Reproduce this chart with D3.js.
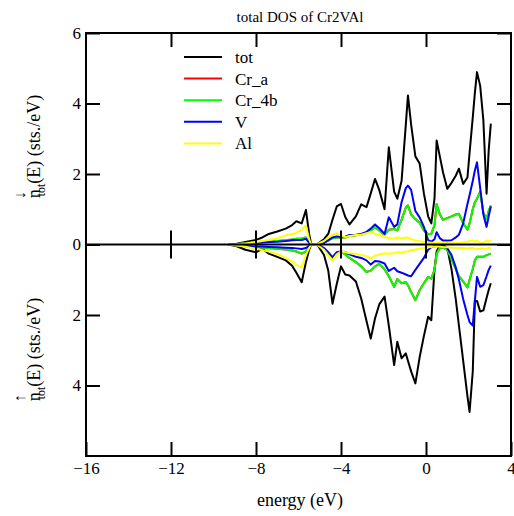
<!DOCTYPE html>
<html>
<head>
<meta charset="utf-8">
<script src="https://cdn.jsdelivr.net/npm/d3@7"></script>
<style>
  body { margin: 0; background: #fff; }
  text { font-family: "Liberation Serif", "DejaVu Serif", serif; }
</style>
</head>
<body>
<div class="visual"></div>
<script>
// energy grid (eV)
const energy = [-9.3, -8.9, -8.5, -8.0, -7.7, -7.4, -7.0, -6.6, -6.3, -6.1,
  -5.85, -5.65, -5.5, -5.4, -5.1, -4.8, -4.6, -4.4, -4.2, -4.0,
  -3.8, -3.6, -3.3, -3.05, -2.8, -2.6, -2.4, -2.2, -1.95, -1.75,
  -1.5, -1.35, -1.15, -0.95, -0.85, -0.7, -0.5, -0.3, -0.1, 0.1,
  0.25, 0.4, 0.5, 0.65, 0.8, 1.0, 1.2, 1.4, 1.55, 1.75,
  1.95, 2.05, 2.2, 2.3, 2.4, 2.55, 2.7, 2.85, 2.95, 3.05];

// spin down (drawn upward)
const totDn = [0, 0.02, 0.07, 0.13, 0.2, 0.3, 0.37, 0.45, 0.55, 0.66,
  0.6, 0.98, 0.3, 0, 0.02, 0.15, 0.3, 0.7, 1.08, 1.15,
  0.78, 0.57, 0.8, 1.14, 1.06, 1.45, 1.86, 1.55, 1.0, 2.76,
  1.5, 1.3, 1.8, 3.4, 4.23, 3.4, 2.5, 2.3, 1.45, 0.8,
  0.6, 1.3, 2.95, 2.5, 2.05, 1.58, 1.75, 1.95, 2.15, 1.72,
  1.9, 2.6, 3.6, 4.3, 4.89, 4.5, 3.52, 1.44, 2.67, 3.43];
const crADn = [0, 0.01, 0.04, 0.06, 0.07, 0.08, 0.1, 0.12, 0.14, 0.16,
  0.17, 0.2, 0.06, 0, 0, 0.05, 0.12, 0.18, 0.2, 0.2,
  0.2, 0.24, 0.26, 0.28, 0.33, 0.4, 0.49, 0.4, 0.28, 0.42,
  0.44, 0.4, 0.7, 1.05, 1.11, 0.85, 0.72, 0.62, 0.4, 0.3,
  0.3, 0.55, 1.15, 0.85, 0.7, 0.75, 0.8, 0.85, 0.87, 0.6,
  0.42, 0.6, 1.0, 1.2, 1.3, 1.5, 0.9, 0.72, 0.95, 1.1];
const cr4bDn = [0, 0.01, 0.04, 0.06, 0.07, 0.08, 0.1, 0.12, 0.14, 0.16,
  0.17, 0.2, 0.06, 0, 0, 0.05, 0.12, 0.18, 0.2, 0.2,
  0.2, 0.24, 0.26, 0.28, 0.33, 0.4, 0.49, 0.4, 0.28, 0.42,
  0.44, 0.4, 0.7, 1.05, 1.11, 0.85, 0.72, 0.62, 0.4, 0.3,
  0.3, 0.55, 1.15, 0.85, 0.7, 0.75, 0.8, 0.85, 0.87, 0.6,
  0.42, 0.6, 1.0, 1.2, 1.3, 1.5, 0.9, 0.72, 0.95, 1.1];
const vDn = [0, 0.01, 0.03, 0.05, 0.06, 0.07, 0.08, 0.1, 0.12, 0.13,
  0.13, 0.16, 0.05, 0, 0, 0.05, 0.12, 0.2, 0.23, 0.21,
  0.22, 0.27, 0.28, 0.3, 0.36, 0.45, 0.57, 0.46, 0.3, 0.77,
  0.5, 0.57, 1.2, 1.6, 1.67, 1.55, 0.95, 0.77, 0.5, 0.12,
  0.08, 0.15, 0.35, 0.18, 0.11, 0.11, 0.12, 0.2, 0.28, 0.6,
  1.15, 1.4, 1.8, 2.1, 2.33, 1.6, 0.85, 0.5, 0.8, 1.08];
const alDn = [0, 0.01, 0.03, 0.07, 0.1, 0.13, 0.18, 0.26, 0.3, 0.33,
  0.42, 0.54, 0.15, 0, 0.02, 0.1, 0.2, 0.27, 0.32, 0.25,
  0.21, 0.24, 0.27, 0.28, 0.32, 0.35, 0.3, 0.27, 0.22, 0.18,
  0.16, 0.2, 0.17, 0.2, 0.19, 0.15, 0.12, 0.09, 0.07, 0.06,
  0.05, 0.04, 0.05, 0.04, 0.05, 0.04, 0.05, 0.05, 0.04, 0.06,
  0.08, 0.1, 0.12, 0.08, 0.1, 0.06, 0.05, 0.12, 0.08, 0.12];

// spin up (drawn downward)
const totUp = [0, 0.05, 0.15, 0.22, 0.12, 0.26, 0.35, 0.45, 0.6, 0.8,
  1.07, 0.5, 0.15, 0, 0.02, 0.3, 0.74, 1.68, 1.12, 0.62,
  0.85, 0.88, 1.05, 1.53, 2.17, 2.67, 2.1, 1.7, 1.48, 2.3,
  3.42, 2.76, 3.23, 3.09, 3.3, 3.6, 3.94, 3.2, 2.6, 2.05,
  2.15, 0.7, 0.2, 0.02, 0.02, 0.1, 0.7, 1.55, 2.3, 3.3,
  4.3, 4.75, 3.61, 1.6, 1.6, 1.9, 1.87, 1.52, 1.29, 1.1];
const crAUp = [0, 0.02, 0.05, 0.08, 0.09, 0.1, 0.12, 0.14, 0.17, 0.2,
  0.26, 0.2, 0.06, 0, 0, 0.12, 0.25, 0.42, 0.25, 0.2,
  0.28, 0.38, 0.5, 0.62, 0.78, 0.74, 0.62, 0.55, 0.7, 0.9,
  1.2, 0.98, 1.1, 1.07, 1.15, 1.35, 1.58, 1.3, 1.1, 0.92,
  0.97, 0.72, 0.26, 0.1, 0.08, 0.15, 0.4, 0.7, 0.9, 1.05,
  1.22, 1.0, 0.7, 0.45, 0.35, 0.35, 0.35, 0.3, 0.28, 0.26];
const cr4bUp = [0, 0.02, 0.05, 0.08, 0.09, 0.1, 0.12, 0.14, 0.17, 0.2,
  0.26, 0.2, 0.06, 0, 0, 0.12, 0.25, 0.42, 0.25, 0.2,
  0.28, 0.38, 0.5, 0.62, 0.78, 0.74, 0.62, 0.55, 0.7, 0.9,
  1.2, 0.98, 1.1, 1.07, 1.15, 1.35, 1.58, 1.3, 1.1, 0.92,
  0.97, 0.72, 0.26, 0.1, 0.08, 0.15, 0.4, 0.7, 0.9, 1.05,
  1.22, 1.0, 0.7, 0.45, 0.35, 0.35, 0.35, 0.3, 0.28, 0.26];
const vUp = [0, 0.02, 0.04, 0.06, 0.06, 0.07, 0.08, 0.09, 0.1, 0.11,
  0.13, 0.1, 0.04, 0, 0, 0.1, 0.22, 0.36, 0.22, 0.2,
  0.22, 0.28, 0.35, 0.38, 0.45, 0.57, 0.47, 0.48, 0.54, 0.75,
  0.66, 0.76, 0.8, 0.85, 0.88, 0.9, 0.72, 0.55, 0.38, 0.15,
  0.08, 0.05, 0.04, 0.02, 0.03, 0.1, 0.3, 0.65, 1.0, 1.55,
  2.0, 2.2, 2.3, 1.6, 0.92, 1.2, 1.15, 0.9, 0.72, 0.6];
const alUp = [0, 0.03, 0.06, 0.12, 0.16, 0.2, 0.27, 0.38, 0.48, 0.58,
  0.65, 0.3, 0.1, 0, 0.02, 0.15, 0.3, 0.45, 0.28, 0.2,
  0.22, 0.25, 0.27, 0.3, 0.33, 0.4, 0.32, 0.28, 0.25, 0.26,
  0.24, 0.22, 0.23, 0.2, 0.19, 0.16, 0.14, 0.12, 0.1, 0.08,
  0.07, 0.06, 0.05, 0.06, 0.07, 0.08, 0.09, 0.1, 0.1, 0.1,
  0.11, 0.1, 0.1, 0.12, 0.13, 0.12, 0.11, 0.12, 0.1, 0.1];

const seriesNames = ["tot", "Cr_a", "Cr_4b", "V", "Al"];
const seriesColors = ["#000000", "#ff0000", "#00ff00", "#0000ff", "#ffff00"];
const downData = [totDn, crADn, cr4bDn, vDn, alDn];
const upData = [totUp, crAUp, cr4bUp, vUp, alUp];

const xTicks = [-16, -12, -8, -4, 0, 4];
const yTicks = [6, 4, 2, 0, -2, -4];

//set constants
const width = 514, height = 516;
const plot = {left: 86, right: 511, top: 33, bottom: 456};

const svg = d3.select(".visual")
  .append("svg")
  .attr("width", width)
  .attr("height", height);

const x = d3.scaleLinear().domain([-16, 4]).range([plot.left, plot.right]);
const y = d3.scaleLinear().domain([-6, 6]).range([plot.bottom, plot.top]);

// curves
const lineDn = d3.line().x((d, i) => x(energy[i])).y(d => y(d));
const lineUp = d3.line().x((d, i) => x(energy[i])).y(d => y(-d));

const curves = svg.append("g").attr("fill", "none").attr("stroke-width", 2).attr("stroke-linejoin", "round");
seriesNames.forEach((name, k) => {
  curves.append("path").attr("d", lineDn(downData[k])).attr("stroke", seriesColors[k]);
  curves.append("path").attr("d", lineUp(upData[k])).attr("stroke", seriesColors[k]);
});

// zero line with crossing ticks
svg.append("line")
  .attr("x1", plot.left).attr("x2", plot.right)
  .attr("y1", y(0)).attr("y2", y(0))
  .attr("stroke", "#000").attr("stroke-width", 2);
svg.selectAll(".zt")
  .data([-12, -8, -4, 0])
  .enter()
  .append("line")
  .attr("class", "zt")
  .attr("x1", d => x(d)).attr("x2", d => x(d))
  .attr("y1", y(0) - 14).attr("y2", y(0) + 14)
  .attr("stroke", "#000").attr("stroke-width", 2);

// axes
const styleAxis = g => {
  g.select(".domain").remove();
  g.selectAll(".tick line").attr("stroke-width", 2);
  g.selectAll("text").attr("font-size", 17).attr("fill", "#000");
};

svg.append("g")
  .attr("transform", "translate(" + plot.left + ",0)")
  .call(d3.axisLeft(y).tickValues(yTicks).tickSize(-14).tickPadding(5).tickFormat(d => Math.abs(d)))
  .call(styleAxis);
svg.append("g")
  .attr("transform", "translate(" + plot.right + ",0)")
  .call(d3.axisRight(y).tickValues(yTicks).tickSize(-14).tickFormat(""))
  .call(styleAxis);
svg.append("g")
  .attr("transform", "translate(0," + plot.bottom + ")")
  .call(d3.axisBottom(x).tickValues(xTicks).tickSize(-14).tickPadding(6))
  .call(styleAxis);
svg.append("g")
  .attr("transform", "translate(0," + plot.top + ")")
  .call(d3.axisTop(x).tickValues([-12, -8, -4, 0]).tickSize(-14).tickFormat(""))
  .call(styleAxis);

// frame
svg.append("rect")
  .attr("x", plot.left).attr("y", plot.top)
  .attr("width", plot.right - plot.left).attr("height", plot.bottom - plot.top)
  .attr("fill", "none").attr("stroke", "#000").attr("stroke-width", 2);

// title and labels
svg.append("text")
  .attr("x", 300).attr("y", 22)
  .attr("text-anchor", "middle")
  .attr("font-size", 15)
  .text("total DOS of Cr2VAl");

svg.append("text")
  .attr("x", 300).attr("y", 506)
  .attr("text-anchor", "middle")
  .attr("font-size", 18)
  .text("energy (eV)");

const yLabel = (cy, arrow) => {
  const t = svg.append("text")
    .attr("transform", "translate(40," + cy + ") rotate(-90)")
    .attr("text-anchor", "middle")
    .attr("font-size", 18);
  t.append("tspan").text("n");
  t.append("tspan").attr("font-size", 16).attr("dx", -10).attr("dy", -15).text(arrow);
  t.append("tspan").attr("font-size", 12).attr("dx", -5).attr("dy", 20).text("tot");
  t.append("tspan").attr("dy", -5).text("(E) (sts./eV)");
};
yLabel(147, "\u2193");
yLabel(350, "\u2191");

//legend
const legend = svg.selectAll(".legend")
  .data(seriesNames)
  .enter()
  .append("g")
  .attr("class", "legend")
  .attr("transform", (d, i) => "translate(0," + (57 + i * 21.6) + ")");
legend.append("line")
  .attr("x1", 184).attr("x2", 222)
  .attr("y1", 0).attr("y2", 0)
  .attr("stroke", (d, i) => seriesColors[i])
  .attr("stroke-width", 2);
legend.append("text")
  .attr("x", 235).attr("y", 6)
  .attr("font-size", 17)
  .text(d => d);
</script>
</body>
</html>
